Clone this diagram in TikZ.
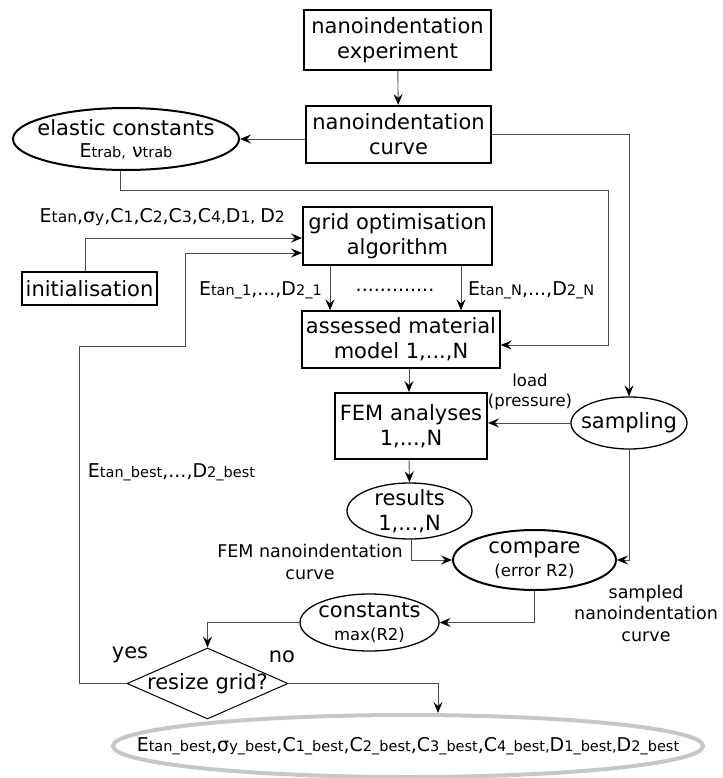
\documentclass[tikz,border=0pt]{standalone}
\usepackage{fontspec}
\setmainfont{DejaVu Sans}
\usetikzlibrary{shapes.geometric,arrows.meta}
\newcommand\lo[1]{{\fontsize{14.5}{17}\selectfont #1}}
\begin{document}
\begin{tikzpicture}[x=1pt,y=-1pt,
  font=\fontsize{21}{25}\selectfont,
  box/.style={draw,line width=1.3pt,align=center,inner sep=0pt},
  thickbox/.style={box,line width=2pt},
  oval/.style={ellipse,draw,line width=1.3pt,inner sep=0pt},
  thickoval/.style={oval,line width=2pt},
  lbl/.style={align=center,inner sep=0pt},
  elbl/.style={lbl,font=\fontsize{19}{23}\selectfont},
  smalllbl/.style={lbl,font=\fontsize{16.5}{20}\selectfont},
  midlbl/.style={lbl,font=\fontsize{17.5}{21.5}\selectfont},
  conn/.style={draw=black!70,line width=0.9pt},
  arr/.style={conn,-{Stealth[length=11pt,width=9pt,inset=4pt,color=black]}}]
\useasboundingbox (0,0) rectangle (722,778);

% boxes
\node[box,minimum width=187,minimum height=60] (exp) at (397.5,40) {nanoindentation\\experiment};
\node[thickbox,minimum width=185,minimum height=57] (curve) at (398.5,134.5) {nanoindentation\\curve};
\node[thickoval,minimum width=226,minimum height=62] (elastic) at (126,139) {};
\node[lbl] (elastict) at (126,139) {elastic constants\\[-3pt]{\fontsize{19}{23}\selectfont E\lo{trab,} ν\lo{trab}}};
\node[thickbox,minimum width=189,minimum height=58] (grid) at (397.5,236) {grid optimisation\\algorithm};
\node[box,minimum width=135,minimum height=33] (init) at (89.5,288.5) {initialisation};
\node[box,minimum width=198,minimum height=57] (assessed) at (401,339.5) {assessed material\\model 1,...,N};
\node[thickbox,minimum width=152,minimum height=66] (fem) at (411,426) {FEM analyses\\1,...,N};
\node[oval,minimum width=116,minimum height=52] (sampling) at (629,423) {};
\node[lbl] (samplingt) at (629,423) {sampling};
\node[oval,minimum width=125,minimum height=56] (results) at (409.5,511) {};
\node[lbl] (resultst) at (409.5,511) {results\\1,...,N};
\node[thickoval,minimum width=163,minimum height=60] (compare) at (534.5,560) {};
\node[lbl] (comparet) at (534.5,560) {compare\\[-2pt]{\fontsize{16.5}{20}\selectfont (error R2)}};
\node[oval,minimum width=139,minimum height=57] (constants) at (369.5,622.5) {};
\node[lbl] (constantst) at (369.5,622.5) {constants\\[-2pt]{\fontsize{16.5}{20}\selectfont max(R2)}};
\node[diamond,draw,line width=1pt,minimum width=161,minimum height=71,inner sep=0pt] (diamond) at (207.5,683.5) {};
\node[lbl] (diamondt) at (207.5,683.5) {resize grid?};
\node[ellipse,draw=black!22,line width=4pt,minimum width=590,minimum height=62,inner sep=0pt] (final) at (408,746) {};
\node[elbl] (finalt) at (408,746) {E\lo{tan\_best},σ\lo{y\_best},C\lo{1\_best},C\lo{2\_best},C\lo{3\_best},C\lo{4\_best,}D\lo{1\_best,}D\lo{2\_best}};

% labels
\node[lbl,font=\fontsize{19}{23}\selectfont,anchor=east] (params) at (285,217) {E{\fontsize{15.5}{18}\selectfont tan},σ{\fontsize{15.5}{18}\selectfont y},C{\fontsize{15.5}{18}\selectfont 1},C{\fontsize{15.5}{18}\selectfont 2},C{\fontsize{15.5}{18}\selectfont 3},C{\fontsize{15.5}{18}\selectfont 4,}D{\fontsize{15.5}{18}\selectfont 1, }D{\fontsize{15.5}{18}\selectfont 2}};
\node[elbl,anchor=east] (lab1) at (322,290) {E\lo{tan\_1},...,D\lo{2\_1}};
\node[elbl] (dots) at (395,290) {.............};
\node[elbl,anchor=west] (labN) at (468,290) {E\lo{tan\_N},...,D\lo{2\_N}};
\node[smalllbl] (load) at (530,392) {load\\(pressure)};
\node[elbl] (best) at (171.5,472) {E\lo{tan\_best},...,D\lo{2\_best}};
\node[midlbl] (femcurve) at (310,562) {FEM nanoindentation\\curve};
\node[midlbl] (sampled) at (646,613) {sampled\\nanoindentation\\curve};
\node[lbl] (yes) at (130,655) {yes};
\node[lbl] (no) at (282,657) {no};

% helper coordinates
\coordinate (c1) at (608,190);
\coordinate (l1) at (79,346);
\coordinate (l2) at (185,346);
\coordinate (a1) at (330,0);
\coordinate (a2) at (461,0);
\coordinate (a3) at (409,0);

% connectors
\draw[arr] (exp) -- (curve);
\draw[arr] (curve.west |- elastic.east) -- (elastic.east);
\draw[arr] (curve.east) -| (sampling.north);
\draw[arr] ([xshift=-6]elastic.south) |- (c1) |- ([yshift=-5.5]assessed.east);
\draw[arr] ([xshift=-4.5]init.north) |- ([yshift=-2]grid.west);
\draw[arr] (diamond.west) -| (l1) -- (l2) |- ([yshift=-17]grid.west);
\draw[arr] (grid.south -| a1) -- (assessed.north -| a1);
\draw[arr] (grid.south -| a2) -- (assessed.north -| a2);
\draw[arr] (assessed.south -| a3) -- (fem.north -| a3);
\draw[arr] (fem.south -| a3) -- (results.north);
\draw[arr] (sampling.west) -- (fem.east |- sampling.west);
\draw[arr] (sampling.south) |- (compare.east);
\draw[arr] ([xshift=1.5]results.south) |- (compare.west);
\draw[arr] (compare.south) |- (constants.east);
\draw[arr] (constants.west) -| (diamond.north);
\draw[arr] (diamond.east) -| ([xshift=30]final.north);
\end{tikzpicture}
\end{document}
